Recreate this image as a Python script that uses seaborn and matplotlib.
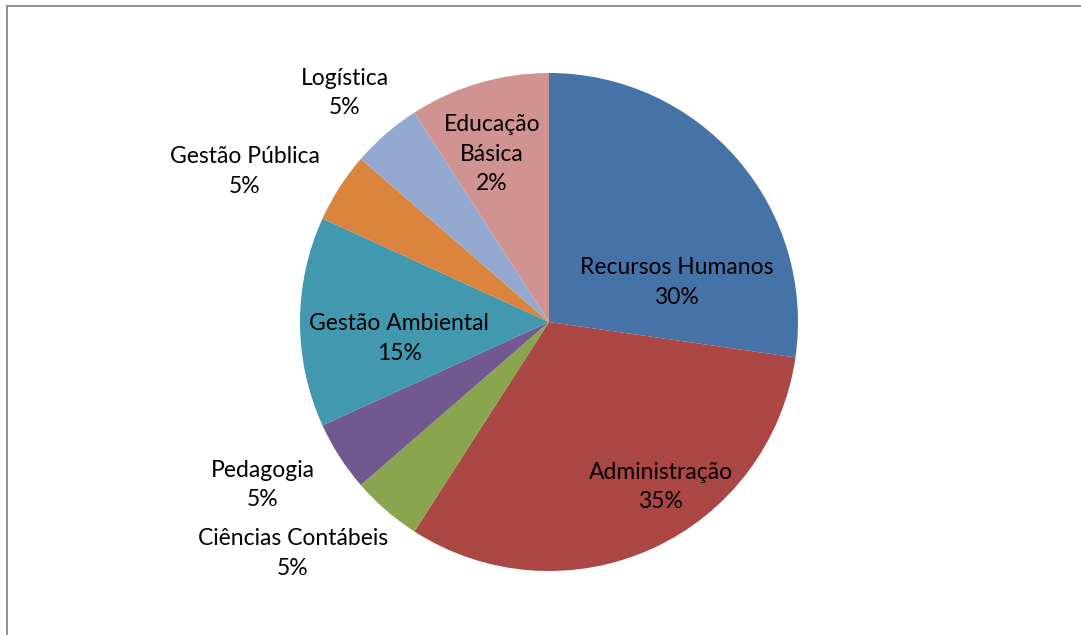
import matplotlib
matplotlib.use("Agg")
import matplotlib.pyplot as plt
import seaborn as sns
from matplotlib.patches import Rectangle

# data: counts per course (slice sizes), and the percent labels as printed on the chart
courses = ["Recursos Humanos", "Administração", "Ciências Contábeis", "Pedagogia",
           "Gestão Ambiental", "Gestão Pública", "Logística", "Educação\nBásica"]
counts = [12, 14, 2, 2, 6, 2, 2, 4]
pct_labels = ["30%", "35%", "5%", "5%", "15%", "5%", "5%", "2%"]
colors = ["#4572A7", "#AA4643", "#89A54E", "#71588F",
          "#4198AF", "#DB843D", "#93A9CF", "#D19392"]

# label anchor spots in units of the pie radius
label_pos = [(0.512, 0.159), (0.448, -0.663), (-1.028, -0.929), (-1.149, -0.655),
             (-0.601, -0.067), (-1.222, 0.605), (-0.819, 0.919), (-0.230, 0.673)]

sns.set_theme(style="white")
plt.rcParams['font.family'] = ['Lato', 'DejaVu Sans']

W, H = 1081, 635
fig = plt.figure(figsize=(W / 100, H / 100), dpi=100)

# grey chart frame (only top and left edges show in the picture)
fig.patches.append(Rectangle((7 / W, -0.1), 1.2, (H - 6) / H + 0.1,
                             transform=fig.transFigure, fill=False,
                             edgecolor="#878787", linewidth=1.3))

cx, cy, r = 549, 322, 249
ax = fig.add_axes([(cx - r) / W, (H - cy - r) / H, 2 * r / W, 2 * r / H])
ax.pie(counts, colors=sns.color_palette(colors), startangle=90, counterclock=False,
       radius=1, wedgeprops=dict(linewidth=0))
ax.set_xlim(-1, 1)
ax.set_ylim(-1, 1)
ax.set_aspect("equal")
ax.axis("off")

for name, pct, (x, y) in zip(courses, pct_labels, label_pos):
    ax.text(x, y, name + "\n" + pct, ha="center", va="center", fontsize=16.5,
            linespacing=1.5, color="black", clip_on=False)

fig.savefig("out.png", dpi=100)
